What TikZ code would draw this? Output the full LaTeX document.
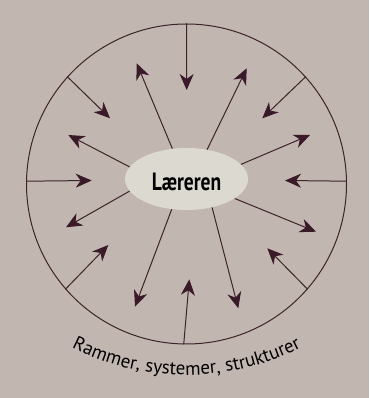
\documentclass[tikz,border=0pt]{standalone}
\usepackage{fontspec}
\setmainfont{PT Sans}
\newfontfamily\laerfont[FakeStretch=0.78]{PT Sans}
\newfontfamily\botfont{PT Sans}
\usetikzlibrary{arrows.meta,shapes.geometric,decorations.text}
\definecolor{bgcol}{HTML}{C2B6B1}
\definecolor{linecol}{HTML}{3C2429}
\definecolor{headcol}{HTML}{3A1A28}
\definecolor{ellcol}{HTML}{DCD9D1}
\tikzset{
  arr/.style={draw=linecol, line width=1pt,
    -{Stealth[length=16pt,width=14pt,inset=5pt,color=headcol]}},
  ring/.style={circle, draw=linecol, line width=1pt, minimum size=320pt, inner sep=0pt},
  centre/.style={ellipse, fill=ellcol, minimum width=123pt, minimum height=62pt,
    inner sep=0pt, text height=23pt, text depth=0pt,
    font=\laerfont\bfseries\fontsize{25}{27}\selectfont}
}
\begin{document}
\begin{tikzpicture}[x=1pt,y=1pt]
\fill[bgcol] (0,0) rectangle (369,398);
\useasboundingbox (0,0) rectangle (369,398);
\node[ring] (C) at (186.5,214) {};
\node[centre] (E) at (186.5,219) {Læreren};
% free ends
\coordinate (t1) at (186.7,308);
\coordinate (t2) at (136.7,334.7);
\coordinate (t3) at (246.7,329.7);
\coordinate (t4) at (262.3,279.7);
\coordinate (t5) at (110,279.7);
\coordinate (t6) at (68.3,263);
\coordinate (t7) at (310,263);
\coordinate (t8) at (91.7,217.5);
\coordinate (t9) at (285,217.5);
\coordinate (t10) at (66,170.7);
\coordinate (t11) at (316,166.3);
\coordinate (t12) at (108.3,153);
\coordinate (t13) at (267.3,149.7);
\coordinate (t14) at (135,91.3);
\coordinate (t15) at (238.3,89.7);
\coordinate (t16) at (189.3,118.7);
% inward arrows from the ring
\draw[arr] (C.90) -- (t1);
\draw[arr] (C.42) -- (t4);
\draw[arr] (C.138) -- (t5);
\draw[arr] (C.179) -- (t8);
\draw[arr] (C.1) -- (t9);
\draw[arr] (C.221) -- (t12);
\draw[arr] (C.319) -- (t13);
\draw[arr] (C.269) -- (t16);
% outward arrows from the centre
\draw[arr] (E.115) -- (t2);
\draw[arr] (E.55) -- (t3);
\draw[arr] (E.168) -- (t6);
\draw[arr] (E.15) -- (t7);
\draw[arr] (E.192) -- (t10);
\draw[arr] (E.338) -- (t11);
\draw[arr] (E.244) -- (t14);
\draw[arr] (E.312) -- (t15);
% curved caption
\path[decorate, decoration={text along path, text align=center,
  text={|\botfont\fontsize{19}{21}\selectfont|Rammer, systemer, strukturer}}]
  (186.5,276) ++(234:253) arc[start angle=234, end angle=306, radius=253];
\end{tikzpicture}
\end{document}
